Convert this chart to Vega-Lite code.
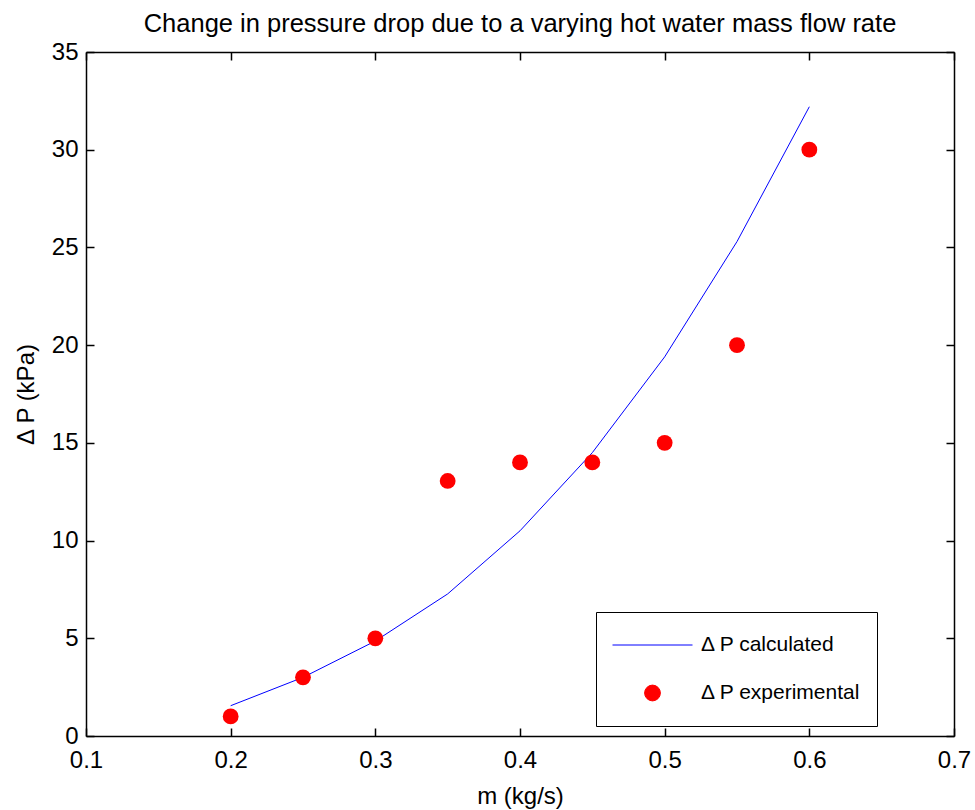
{
  "$schema": "https://vega.github.io/schema/vega-lite/v6.json",
  "width": 868,
  "height": 684,
  "autosize": {"type": "none"},
  "padding": {"left": 86, "top": 52, "right": 21, "bottom": 74},
  "background": "white",
  "title": {"text": "Change in pressure drop due to a varying hot water mass flow rate", "fontSize": 25.5, "font": "Liberation Sans", "fontWeight": "normal", "color": "black", "anchor": "middle", "baseline": "alphabetic", "offset": -17},
  "config": {
    "view": {"stroke": null},
    "font": "Liberation Sans",
    "axis": {"domainColor": "black", "tickColor": "black", "labelColor": "black", "titleColor": "black", "labelFontSize": 24, "titleFontSize": 24, "titleFontWeight": "normal", "grid": false, "tickSize": -8, "domainWidth": 1.5, "tickWidth": 1.5, "labelFont": "Liberation Sans", "titleFont": "Liberation Sans", "labelFlush": false, "labelOverlap": false},
    "legend": {"labelFont": "Liberation Sans", "labelFontSize": 21, "labelColor": "black", "strokeColor": "black", "fillColor": "white", "padding": 16, "labelOffset": 8, "clipHeight": 34, "rowPadding": 14, "symbolStrokeWidth": 1, "symbolOpacity": 1}
  },
  "data": {"values": [
    {"m": 0.2, "dp": 1.55, "series": "Δ P calculated"},
    {"m": 0.25, "dp": 3.0, "series": "Δ P calculated"},
    {"m": 0.3, "dp": 4.86, "series": "Δ P calculated"},
    {"m": 0.35, "dp": 7.27, "series": "Δ P calculated"},
    {"m": 0.4, "dp": 10.5, "series": "Δ P calculated"},
    {"m": 0.45, "dp": 14.5, "series": "Δ P calculated"},
    {"m": 0.5, "dp": 19.4, "series": "Δ P calculated"},
    {"m": 0.55, "dp": 25.3, "series": "Δ P calculated"},
    {"m": 0.6, "dp": 32.2, "series": "Δ P calculated"},
    {"m": 0.2, "dp": 1, "series": "Δ P experimental"},
    {"m": 0.25, "dp": 3, "series": "Δ P experimental"},
    {"m": 0.3, "dp": 5, "series": "Δ P experimental"},
    {"m": 0.35, "dp": 13.05, "series": "Δ P experimental"},
    {"m": 0.4, "dp": 14, "series": "Δ P experimental"},
    {"m": 0.45, "dp": 14, "series": "Δ P experimental"},
    {"m": 0.5, "dp": 15, "series": "Δ P experimental"},
    {"m": 0.55, "dp": 20, "series": "Δ P experimental"},
    {"m": 0.6, "dp": 30, "series": "Δ P experimental"}
  ]},
  "layer": [
    {
      "transform": [{"filter": "datum.series === 'Δ P calculated'"}],
      "mark": {"type": "line", "color": "#0000ff", "strokeWidth": 1},
      "encoding": {
        "x": {"field": "m", "type": "quantitative", "scale": {"domain": [0.1, 0.7], "nice": false, "zero": false},
          "axis": {"orient": "bottom", "values": [0.1, 0.2, 0.3, 0.4, 0.5, 0.6, 0.7], "format": ".1f", "title": "m (kg/s)", "labelPadding": 20, "titleY": 67, "titleBaseline": "alphabetic"}},
        "y": {"field": "dp", "type": "quantitative", "scale": {"domain": [0, 35], "nice": false, "zero": false},
          "axis": {"orient": "left", "values": [0, 5, 10, 15, 20, 25, 30, 35], "title": "Δ P (kPa)", "labelPadding": 16, "titleX": -53, "titleY": 342, "titleBaseline": "alphabetic", "titleAngle": -90}},
        "color": {"field": "series", "type": "nominal", "title": null,
          "scale": {"domain": ["Δ P calculated", "Δ P experimental"], "range": ["#0000ff", "#ff0000"]},
          "legend": {"orient": "none", "legendX": 510, "legendY": 560, "title": null}}
      }
    },
    {
      "transform": [{"filter": "datum.series === 'Δ P experimental'"}],
      "mark": {"type": "point", "filled": true, "opacity": 1},
      "encoding": {
        "x": {"field": "m", "type": "quantitative", "scale": {"domain": [0.1, 0.7], "nice": false, "zero": false},
          "axis": {"orient": "top", "values": [0.1, 0.2, 0.3, 0.4, 0.5, 0.6, 0.7], "labels": false, "title": null}},
        "y": {"field": "dp", "type": "quantitative", "scale": {"domain": [0, 35], "nice": false, "zero": false},
          "axis": {"orient": "right", "values": [0, 5, 10, 15, 20, 25, 30, 35], "labels": false, "title": null}},
        "color": {"field": "series", "type": "nominal", "title": null,
          "scale": {"domain": ["Δ P calculated", "Δ P experimental"], "range": ["#0000ff", "#ff0000"]},
          "legend": {"orient": "none", "legendX": 510, "legendY": 560, "title": null}},
        "shape": {"field": "series", "type": "nominal", "title": null,
          "scale": {"domain": ["Δ P calculated", "Δ P experimental"], "range": ["stroke", "circle"]},
          "legend": {"orient": "none", "legendX": 510, "legendY": 560, "title": null}},
        "size": {"field": "series", "type": "nominal", "title": null,
          "scale": {"domain": ["Δ P calculated", "Δ P experimental"], "range": [6400, 250]},
          "legend": {"orient": "none", "legendX": 510, "legendY": 560, "title": null}}
      }
    }
  ],
  "resolve": {"axis": {"x": "independent", "y": "independent"}}
}
